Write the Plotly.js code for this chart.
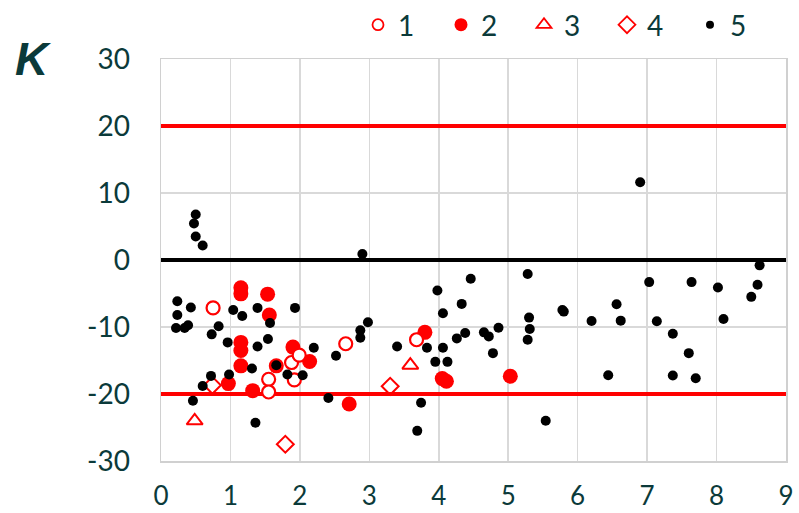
<!DOCTYPE html>
<html>
<head>
<meta charset="utf-8">
<script src="https://cdn.plot.ly/plotly-3.0.1.min.js"></script>
<style>html,body{margin:0;padding:0;background:#fff;}#chart{width:799px;height:513px;}</style>
</head>
<body>
<div id="chart"></div>
<script>
// Series 1: open red circles
const x1 = [0.75, 1.55, 1.55, 1.88, 1.92, 1.99, 2.66, 3.68];
const y1 = [-7.15, -17.8, -19.7, -15.3, -17.9, -14.2, -12.5, -11.9];
// Series 2: filled red circles
const x2 = [0.97, 1.15, 1.15, 1.15, 1.15, 1.15, 1.32, 1.535, 1.56, 1.66, 1.90, 2.14, 2.71, 3.80, 4.05, 4.11, 5.03];
const y2 = [-18.45, -4.15, -5.05, -12.3, -13.5, -15.8, -19.5, -5.1, -8.2, -15.8, -13.0, -15.15, -21.5, -10.8, -17.7, -18.1, -17.35];
// Series 3: open red triangles
const x3 = [0.485, 3.59];
const y3 = [-24.0, -15.7];
// Series 4: open red diamonds
const x4 = [0.74, 1.79, 3.30];
const y4 = [-18.7, -27.5, -18.85];
// Series 5: small black dots
const x5 = [0.235, 0.235, 0.43, 0.216, 0.34, 0.39, 0.50, 0.475, 0.50, 0.60,
  0.46, 0.60, 0.72, 0.73, 0.83, 0.96, 0.98, 1.04, 1.17, 1.31, 1.36, 1.39, 1.39, 1.54, 1.57, 1.66, 1.82, 1.93, 2.04, 2.20,
  2.41, 2.52, 2.87, 2.87, 2.90, 2.98, 3.40, 3.69, 3.745, 3.83, 3.95, 3.98, 4.06, 4.06, 4.125, 4.26, 4.33, 4.38, 4.46, 4.65, 4.72, 4.78, 4.86,
  5.28, 5.30, 5.31, 5.28, 5.54, 5.78, 5.80, 6.20, 6.44, 6.56, 6.62, 6.90, 7.03, 7.14, 7.37, 7.37, 7.60, 7.64, 7.70, 8.02, 8.10, 8.50, 8.59, 8.62];
const y5 = [-6.15, -8.2, -7.1, -10.15, -10.15, -9.75, 6.8, 5.45, 3.5, 2.17,
  -21.0, -18.8, -17.3, -11.1, -9.9, -12.3, -17.1, -7.45, -8.35, -16.2, -24.3, -7.15, -12.9, -11.8, -9.4, -15.7, -17.1, -7.15, -17.2, -13.1,
  -20.6, -14.3, -10.5, -11.6, 0.9, -9.3, -12.9, -25.5, -21.3, -13.1, -15.2, -4.55, -7.95, -13.1, -15.2, -11.7, -6.55, -10.9, -2.8, -10.8, -11.4, -13.9, -10.1,
  -2.1, -8.6, -10.3, -11.9, -24.0, -7.45, -7.7, -9.1, -17.2, -6.6, -9.05, 11.6, -3.3, -9.15, -11.0, -17.25, -13.9, -3.3, -17.65, -4.1, -8.8, -5.5, -3.7, -0.8];
// Reference lines
const lineX = [0, 9];
const upperLimit = 20;
const lowerLimit = -20;
const zeroLine = 0;
const seriesNames = ['1', '2', '3', '4', '5'];
const yTicks = [-30, -20, -10, 0, 10, 20, 30];
const xTicks = [0, 1, 2, 3, 4, 5, 6, 7, 8, 9];

const RED = '#ff0000';
const TEXT = '#0b3a3a';
const FONT = 'Lato, "Open Sans", sans-serif';

const hline = (v, color) => ({
  x: lineX, y: [v, v], mode: 'lines', type: 'scatter', showlegend: false, hoverinfo: 'skip',
  line: {color: color, width: 4}
});

const markers = [
  {sym: 'circle-open', size: 13, color: RED, lw: 2.2},
  {sym: 'circle', size: 15, color: RED, lw: 0},
  {sym: 'triangle-up-open', size: 14, color: RED, lw: 2},
  {sym: 'diamond-open', size: 13, color: RED, lw: 2},
  {sym: 'circle', size: 10, color: '#000', lw: 0}
];
const legendSizes = [11, 13, 13, 13, 8];
const xs = [x1, x2, x3, x4, x5];
const ys = [y1, y2, y3, y4, y5];

const dataTraces = [0, 1, 2, 3, 4].map(i => ({
  x: xs[i], y: ys[i], type: 'scatter', mode: 'markers', name: seriesNames[i], showlegend: false,
  marker: {symbol: markers[i].sym, size: markers[i].size, color: markers[i].color,
    line: {color: markers[i].color, width: markers[i].lw}}
}));
// open circles have white interior
dataTraces[0].marker = {symbol: 'circle', size: 13, color: '#ffffff', line: {color: RED, width: 2.2}};

const legendTraces = [0, 1, 2, 3, 4].map(i => ({
  x: [null], y: [null], type: 'scatter', mode: 'markers', name: seriesNames[i], showlegend: true,
  marker: {symbol: markers[i].sym, size: legendSizes[i], color: markers[i].color,
    line: {color: markers[i].color, width: markers[i].lw ? 1.8 : 0}}
}));

const traces = [
  hline(upperLimit, RED), hline(lowerLimit, RED), hline(zeroLine, '#000'),
  dataTraces[1], dataTraces[0], dataTraces[2], dataTraces[3], dataTraces[4],
  ...legendTraces
];

const layout = {
  width: 799, height: 513,
  margin: {l: 161, r: 12.5, t: 59, b: 52.3, pad: 0, autoexpand: false},
  paper_bgcolor: '#fff', plot_bgcolor: '#fff',
  font: {family: FONT, size: 28, color: TEXT},
  showlegend: true,
  legend: {orientation: 'h', xref: 'container', yref: 'container', x: 358 / 799, y: 1 - 25 / 513,
    xanchor: 'left', yanchor: 'middle', font: {family: FONT, size: 28, color: TEXT},
    entrywidth: 38, entrywidthmode: 'pixels', itemsizing: 'trace', traceorder: 'normal', bgcolor: 'rgba(0,0,0,0)'},
  xaxis: {range: [0, 9], tickvals: xTicks, ticktext: xTicks.map(String), showgrid: true, gridcolor: '#d9d9d9', gridwidth: 1.5,
    zeroline: false, showline: true, linecolor: '#d0d0d0', linewidth: 1.5, mirror: true, ticks: '', automargin: false,
    ticklabelstandoff: 11, tickfont: {family: FONT, size: 26, color: TEXT}, fixedrange: true},
  yaxis: {range: [-30, 30], tickvals: yTicks, ticktext: yTicks.map(String), showgrid: true, gridcolor: '#d9d9d9', gridwidth: 1.5,
    zeroline: false, showline: true, linecolor: '#d0d0d0', linewidth: 1.5, mirror: true, ticks: '', automargin: false,
    ticklabelstandoff: 24, tickfont: {family: FONT, size: 28, color: TEXT}, fixedrange: true},
  annotations: [{text: '<b><i>K</i></b>', xref: 'paper', yref: 'paper', x: -0.205, y: 1.0, xanchor: 'center', yanchor: 'middle',
    showarrow: false, font: {family: '"Liberation Sans", Arial, sans-serif', size: 46, color: TEXT}}]
};

Plotly.newPlot('chart', traces, layout, {displayModeBar: false, staticPlot: true});
</script>
</body>
</html>
